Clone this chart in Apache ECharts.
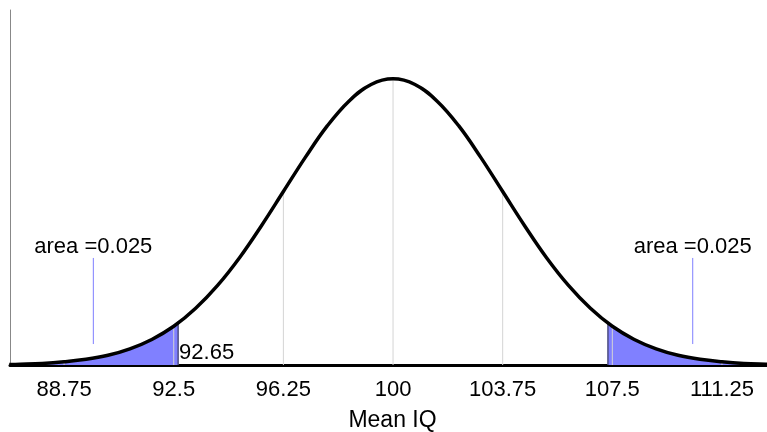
<!DOCTYPE html>
<html>
<head>
<meta charset="utf-8">
<script src="https://cdn.jsdelivr.net/npm/echarts@6/dist/echarts.min.js"></script>
<style>
html,body{margin:0;padding:0;background:#fff;}
#chart{width:767px;height:432px;}
</style>
</head>
<body>
<div id="chart"></div>
<script>
// Curve (density of mean IQ)
const curveX = [86.875, 87.25, 88, 88.75, 89.5, 90.25, 91, 91.75, 92.5, 93.25, 94, 94.75, 95.5, 96.25, 97, 97.75, 98.5, 99.25, 100,
  100.75, 101.5, 102.25, 103, 103.75, 104.5, 105.25, 106, 106.75, 107.5, 108.25, 109, 109.75, 110.5, 111.25, 112, 112.75, 113.125];
const curveY = [0.0002, 0.0003, 0.0006, 0.0012, 0.0021, 0.0036, 0.0060, 0.0095, 0.0144, 0.0211, 0.0296, 0.0399, 0.0518, 0.0645, 0.0772, 0.0889, 0.0982, 0.1043, 0.1064,
  0.1043, 0.0982, 0.0889, 0.0772, 0.0645, 0.0518, 0.0399, 0.0296, 0.0211, 0.0144, 0.0095, 0.0060, 0.0036, 0.0021, 0.0012, 0.0006, 0.0003, 0.0002];

// Shaded tails
const leftTailX = [86.875, 87.25, 88, 88.75, 89.5, 90.25, 91, 91.75, 92.5, 92.65];
const leftTailY = [0.0002, 0.0003, 0.0006, 0.0012, 0.0021, 0.0036, 0.0060, 0.0095, 0.0144, 0.0156];
const rightTailX = [107.35, 107.5, 108.25, 109, 109.75, 110.5, 111.25, 112, 112.75, 113.125];
const rightTailY = [0.0156, 0.0144, 0.0095, 0.0060, 0.0036, 0.0021, 0.0012, 0.0006, 0.0003, 0.0002];

// Tick labels and gridline heights
const tickValues = [88.75, 92.5, 96.25, 100, 103.75, 107.5, 111.25];
const tickHeights = [0.0012, 0.0144, 0.0645, 0.1064, 0.0645, 0.0144, 0.0012];

// Critical values
const criticalX = [92.65, 107.35];
const criticalY = [0.0156, 0.0156];
const criticalLabel = '92.65';

// Area annotations
const areaPointerX = [89.75, 110.25];
const areaPointerBottom = [0.0078, 0.0078];
const areaPointerTop = [0.0398, 0.0398];
const areaText = ['area =0.025', 'area =0.025'];

const FONT = '"Liberation Sans", Arial, Helvetica, sans-serif';

const chart = echarts.init(document.getElementById('chart'), null, {renderer: 'canvas'});

function segRender(color, width) {
  return function (params, api) {
    const p0 = api.coord([api.value(0), api.value(1)]);
    const p1 = api.coord([api.value(0), api.value(2)]);
    return {
      type: 'line',
      shape: {x1: p0[0], y1: p0[1], x2: p1[0], y2: p1[1]},
      style: {stroke: color, lineWidth: width}
    };
  };
}

const option = {
  backgroundColor: '#fff',
  animation: false,
  grid: {left: 10, right: 0, top: 10, bottom: 67, containLabel: false, outerBoundsMode: 'none'},
  xAxis: {
    type: 'value',
    min: 86.9,
    max: 112.79,
    name: 'Mean IQ',
    nameLocation: 'middle',
    nameGap: 44,
    nameTextStyle: {fontFamily: FONT, fontSize: 23, color: '#000', padding: [0, 0, 0, 8]},
    axisLine: {show: true, onZero: false, lineStyle: {color: '#000', width: 3}},
    axisTick: {show: false},
    splitLine: {show: false},
    axisLabel: {
      customValues: tickValues,
      margin: 14,
      fontFamily: FONT, fontSize: 22, color: '#000',
      formatter: v => String(v)
    }
  },
  yAxis: {
    type: 'value',
    min: 0,
    max: 0.132,
    axisLine: {show: true, lineStyle: {color: '#888', width: 1}},
    axisTick: {show: false},
    axisLabel: {show: false},
    splitLine: {show: false}
  },
  series: [
    {
      type: 'line', data: leftTailX.map((x, i) => [x, leftTailY[i]]),
      smooth: 0.4, showSymbol: false, lineStyle: {width: 0},
      areaStyle: {color: '#8080ff', opacity: 1}, z: 1, silent: true
    },
    {
      type: 'line', data: rightTailX.map((x, i) => [x, rightTailY[i]]),
      smooth: 0.4, showSymbol: false, lineStyle: {width: 0},
      areaStyle: {color: '#8080ff', opacity: 1}, z: 1, silent: true
    },
    {
      type: 'custom', z: 2, silent: true,
      renderItem: segRender('#d4d4d4', 1),
      data: tickValues.map((x, i) => [x, 0, tickHeights[i]])
    },
    {
      type: 'custom', z: 3, silent: true,
      renderItem: segRender('#4d4d80', 1.5),
      data: criticalX.map((x, i) => [x, 0, criticalY[i]])
    },
    {
      type: 'custom', z: 3, silent: true,
      renderItem: segRender('#7f7fff', 1),
      data: areaPointerX.map((x, i) => [x, areaPointerBottom[i], areaPointerTop[i]])
    },
    {
      type: 'line', data: curveX.map((x, i) => [x, curveY[i]]),
      smooth: 0.4, showSymbol: false, z: 4, silent: true,
      lineStyle: {color: '#000', width: 3.5}
    },
    {
      type: 'custom', z: 5, silent: true,
      renderItem: function (params, api) {
        const p = api.coord([api.value(0), api.value(1)]);
        return {
          type: 'text', x: p[0], y: p[1],
          style: {text: areaText[params.dataIndex], font: '22px ' + FONT, fill: '#000',
                  align: 'center', verticalAlign: 'bottom'}
        };
      },
      data: areaPointerX.map((x, i) => [x, areaPointerTop[i]])
    },
    {
      type: 'custom', z: 5, silent: true,
      renderItem: function (params, api) {
        const p = api.coord([api.value(0), api.value(1)]);
        return {
          type: 'text', x: p[0] + 1, y: p[1] - 1,
          style: {text: criticalLabel, font: '22px ' + FONT, fill: '#000',
                  align: 'left', verticalAlign: 'bottom'}
        };
      },
      data: [[criticalX[0], 0]]
    }
  ]
};
chart.setOption(option);
</script>
</body>
</html>
